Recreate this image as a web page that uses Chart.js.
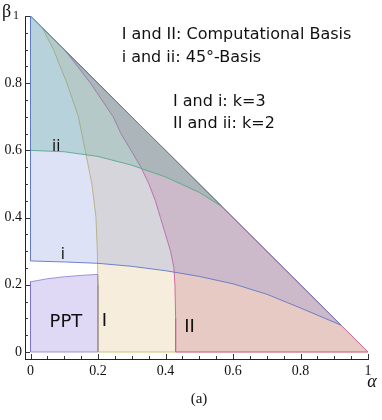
<!DOCTYPE html>
<html>
<head>
<meta charset="utf-8">
<script src="https://cdn.jsdelivr.net/npm/chart.js@4.4.0/dist/chart.umd.min.js"></script>
<style>
    body { margin: 0; background: #fff; }
    #wrap { width: 382px; height: 420px; }
</style>
</head>
<body>
<div id="wrap"><canvas id="regionChart" width="382" height="420"></canvas></div>
<script>
// Boundary curves
// I (computational basis, k=3): alpha as a function of beta
const curveI_beta  = [0, 0.1, 0.2, 0.3, 0.4, 0.5, 0.6, 0.7, 0.8, 0.9, 0.965];
const curveI_alpha = [0.200, 0.200, 0.200, 0.198, 0.194, 0.182, 0.162, 0.142, 0.108, 0.068, 0.035];

// II (computational basis, k=2)
const curveII_beta  = [0, 0.1, 0.2, 0.25, 0.3, 0.35, 0.4, 0.45, 0.5, 0.55, 0.6, 0.65, 0.7, 0.8, 0.897];
const curveII_alpha = [0.430, 0.430, 0.428, 0.425, 0.415, 0.400, 0.385, 0.370, 0.351, 0.327, 0.298, 0.268, 0.245, 0.178, 0.103];

// i (45 degree basis, k=3): beta as a function of alpha
const curve_i_alpha = [0, 0.1, 0.2, 0.3, 0.4, 0.5, 0.6, 0.7, 0.8, 0.92];
const curve_i_beta  = [0.271, 0.268, 0.264, 0.255, 0.242, 0.225, 0.203, 0.172, 0.131, 0.080];

// ii (45 degree basis, k=2)
const curve_ii_alpha = [0, 0.1, 0.2, 0.3, 0.4, 0.5, 0.567];
const curve_ii_beta  = [0.600, 0.596, 0.582, 0.556, 0.521, 0.475, 0.433];

// top edge of the PPT region
const ppt_alpha = [0, 0.05, 0.1, 0.15, 0.199];
const ppt_beta  = [0.209, 0.218, 0.224, 0.228, 0.231];

// axis ticks
const majorTicks = [0, 0.2, 0.4, 0.6, 0.8, 1];
const minorTicks = [0.05, 0.1, 0.15, 0.25, 0.3, 0.35, 0.45, 0.5, 0.55, 0.65, 0.7, 0.75, 0.85, 0.9, 0.95];

function pts(xs, ys) {
    return xs.map((x, i) => ({ x: x, y: ys[i] }));
}

// closed polygons (first point repeated so the whole outline is stroked)
function closed(list) {
    return list.concat([list[0]]);
}

const regionI = closed([{ x: 1, y: 0 }].concat(pts(curveI_alpha, curveI_beta).reverse()));
const regionII = closed([{ x: 1, y: 0 }].concat(pts(curveII_alpha, curveII_beta).reverse()));
const region_i = closed([{ x: 0, y: 1 }].concat(pts(curve_i_alpha, curve_i_beta)));
const region_ii = closed([{ x: 0, y: 1 }].concat(pts(curve_ii_alpha, curve_ii_beta)));
const regionPPT = closed(
    [{ x: 0, y: 0 }]
        .concat(pts(curveI_alpha.slice(0, 3), curveI_beta.slice(0, 3)))
        .concat(pts(ppt_alpha, ppt_beta).reverse())
);

function region(label, data, fillColor, lineColor) {
    return {
        label: label,
        data: data,
        showLine: true,
        fill: 'shape',
        backgroundColor: fillColor,
        borderColor: lineColor,
        borderWidth: 1,
        pointRadius: 0,
        tension: 0
    };
}

const tickFormat = (v) => (v === 0 || v === 1) ? String(v) : v.toFixed(1);

// inward frame ticks like the original plot
const innerTicks = {
    id: 'innerTicks',
    afterDatasetsDraw(chart) {
        const { ctx, chartArea, scales: { x, y } } = chart;
        ctx.save();
        ctx.strokeStyle = '#333';
        ctx.lineWidth = 1;
        ctx.beginPath();
        majorTicks.concat(minorTicks).forEach(v => {
            const len = majorTicks.includes(v) ? 5 : 3;
            const px = Math.round(x.getPixelForValue(v)) + 0.5;
            ctx.moveTo(px, chartArea.bottom);
            ctx.lineTo(px, chartArea.bottom - len);
            const py = Math.round(y.getPixelForValue(v)) + 0.5;
            ctx.moveTo(chartArea.left, py);
            ctx.lineTo(chartArea.left + len, py);
        });
        ctx.stroke();
        ctx.restore();
    }
};

// text labels placed in data coordinates
const notes = [
    { text: 'I and II: Computational Basis', x: 0.270, y: 0.932, size: 16, align: 'left' },
    { text: 'i and ii: 45°-Basis', x: 0.270, y: 0.862, size: 16, align: 'left' },
    { text: 'I and i: k=3', x: 0.422, y: 0.732, size: 16, align: 'left' },
    { text: 'II and ii: k=2', x: 0.422, y: 0.667, size: 16, align: 'left' },
    { text: 'ii', x: 0.076, y: 0.598, size: 15, align: 'center' },
    { text: 'i', x: 0.096, y: 0.277, size: 15, align: 'center' },
    { text: 'PPT', x: 0.105, y: 0.075, size: 18, align: 'center' },
    { text: 'I', x: 0.219, y: 0.077, size: 18, align: 'center' },
    { text: 'II', x: 0.471, y: 0.060, size: 18, align: 'center' }
];

const annotations = {
    id: 'annotations',
    afterDraw(chart) {
        const { ctx, chartArea, scales: { x, y } } = chart;
        ctx.save();
        ctx.fillStyle = '#111';
        ctx.textBaseline = 'alphabetic';
        notes.forEach(n => {
            ctx.font = n.size + 'px "DejaVu Sans"';
            ctx.textAlign = n.align;
            ctx.fillText(n.text, x.getPixelForValue(n.x), y.getPixelForValue(n.y));
        });

        // axis names
        ctx.textAlign = 'left';
        ctx.font = '18px "Liberation Serif"';
        ctx.fillText('β', chartArea.left - 23, chartArea.top + 1);
        ctx.font = '12px "Liberation Serif"';
        ctx.fillText('1', chartArea.left - 12, chartArea.top + 3);
        ctx.font = 'italic 18px "Liberation Serif"';
        ctx.textAlign = 'center';
        ctx.fillText('α', chartArea.right + 4, chartArea.bottom + 28);
        ctx.font = '15px "Liberation Serif"';
        ctx.fillText('(a)', 199, 403);
        ctx.restore();
    }
};

const ctx = document.getElementById('regionChart');
new Chart(ctx, {
    type: 'scatter',
    data: {
        datasets: [
            region('i', region_i, 'rgba(120, 140, 220, 0.25)', 'rgba(95, 120, 200, 0.9)'),
            region('ii', region_ii, 'rgba(60, 170, 110, 0.25)', 'rgba(80, 180, 110, 0.9)'),
            region('PPT', regionPPT, 'rgba(140, 120, 220, 0.28)', 'rgba(120, 110, 210, 0.7)'),
            region('II', regionII, 'rgba(200, 120, 140, 0.3)', 'rgba(205, 95, 155, 0.9)'),
            region('I', regionI, 'rgba(225, 195, 140, 0.3)', 'rgba(205, 185, 100, 0.9)')
        ]
    },
    options: {
        responsive: false,
        animation: false,
        events: [],
        layout: { padding: { top: 16, right: 14, left: 0, bottom: 0 } },
        plugins: {
            legend: { display: false },
            tooltip: { enabled: false }
        },
        scales: {
            x: {
                type: 'linear',
                min: -0.0163,
                max: 1,
                grid: { display: false, drawTicks: false },
                border: { display: true, color: '#222', width: 1 },
                ticks: {
                    autoSkip: false,
                    maxRotation: 0,
                    padding: 4,
                    color: '#111',
                    font: { family: 'Liberation Serif', size: 14 },
                    callback: tickFormat
                },
                afterBuildTicks: (s) => { s.ticks = majorTicks.map(v => ({ value: v })); },
                afterFit: (s) => { s.height = 61; }
            },
            y: {
                type: 'linear',
                min: -0.0208,
                max: 1,
                grid: { display: false, drawTicks: false },
                border: { display: true, color: '#222', width: 1 },
                ticks: {
                    autoSkip: false,
                    padding: 3,
                    color: '#111',
                    font: { family: 'Liberation Serif', size: 14 },
                    // the top of the beta axis carries the axis name instead of "1"
                    callback: (v) => v === 1 ? '' : tickFormat(v)
                },
                afterBuildTicks: (s) => { s.ticks = majorTicks.map(v => ({ value: v })); },
                afterFit: (s) => { s.width = 25; }
            }
        }
    },
    plugins: [innerTicks, annotations]
});
</script>
</body>
</html>
